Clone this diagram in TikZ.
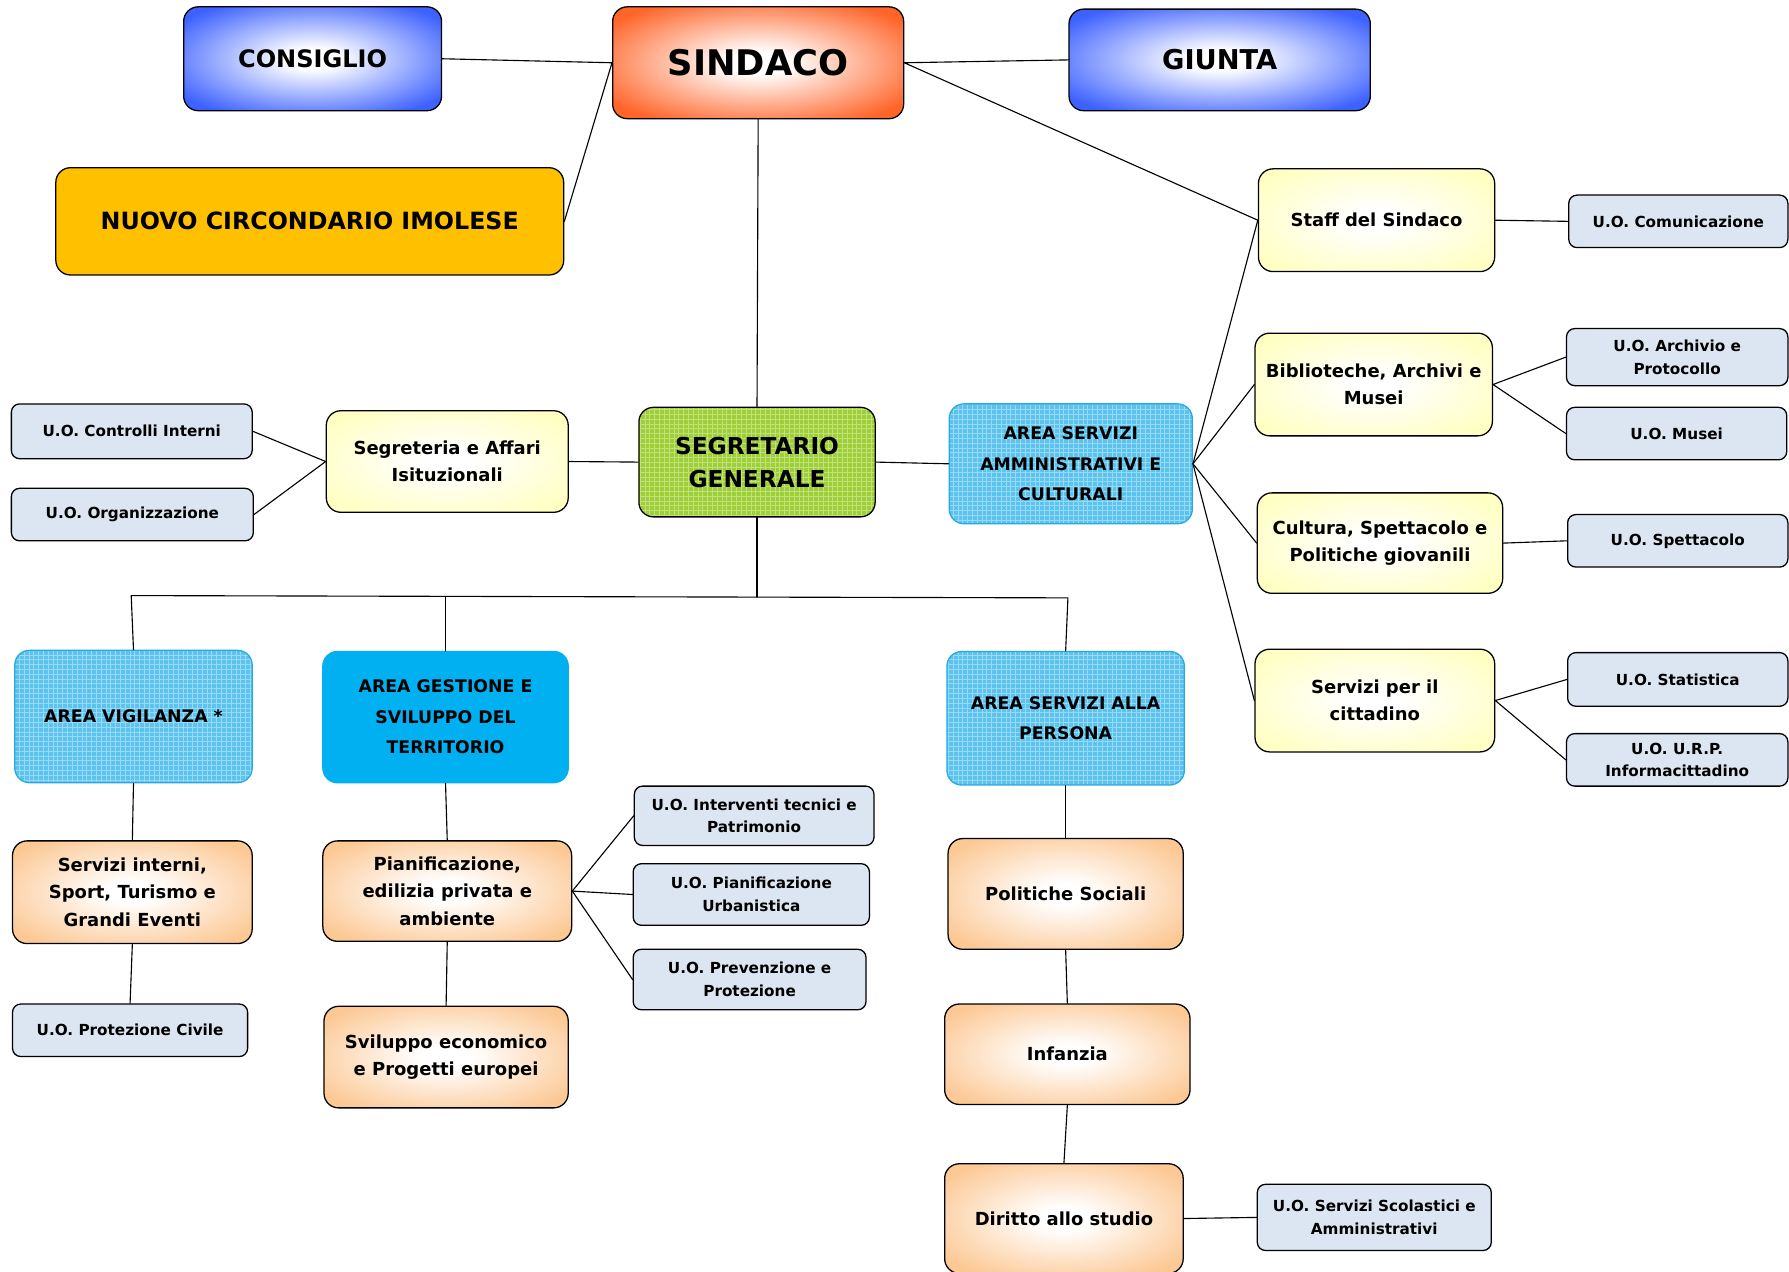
\documentclass[tikz,border=0pt]{standalone}
\usepackage{fontspec}
\setmainfont{DejaVu Sans}
\usetikzlibrary{patterns}
\definecolor{bluedge}{RGB}{62,98,255}
\definecolor{orangedge}{RGB}{255,100,40}
\definecolor{yellowedge}{RGB}{255,255,196}
\definecolor{peachedge}{RGB}{252,200,148}
\definecolor{uoblue}{RGB}{220,230,242}
\definecolor{areacyan}{RGB}{92,195,238}
\definecolor{areagrid}{RGB}{150,218,246}
\definecolor{arealine}{RGB}{40,170,225}
\definecolor{solidcyan}{RGB}{0,176,240}
\definecolor{segreen}{RGB}{158,206,56}
\definecolor{segrid}{RGB}{192,226,120}
\definecolor{gold}{RGB}{255,192,0}
\pgfdeclareradialshading{glowblue}{\pgfpoint{0bp}{0bp}}{color(0bp)=(white); color(5bp)=(white); color(31bp)=(bluedge); color(50bp)=(bluedge)}
\pgfdeclareradialshading{gloworange}{\pgfpoint{0bp}{0bp}}{color(0bp)=(white); color(5bp)=(white); color(31bp)=(orangedge); color(50bp)=(orangedge)}
\pgfdeclareradialshading{glowyellow}{\pgfpoint{0bp}{0bp}}{color(0bp)=(white); color(5bp)=(white); color(30bp)=(yellowedge); color(50bp)=(yellowedge)}
\pgfdeclareradialshading{glowpeach}{\pgfpoint{0bp}{0bp}}{color(0bp)=(white); color(5bp)=(white); color(31bp)=(peachedge); color(50bp)=(peachedge)}
\begin{document}
\begin{tikzpicture}[x=0.025cm,y=-0.025cm,line join=round,line cap=round]
\tikzset{box/.style={draw=black,line width=0.8pt,rounded corners=0.32cm,align=center,font=\bfseries,inner sep=0pt},
topbox/.style={box,shade,shading=glowblue,font=\bfseries\fontsize{15}{18}\selectfont},
capbox/.style={box,shade,shading=gloworange,font=\bfseries\fontsize{22}{26}\selectfont},
servbox/.style={box,shade,shading=glowyellow,font=\bfseries\fontsize{11.2}{17}\selectfont},
unitbox/.style={box,shade,shading=glowpeach,font=\bfseries\fontsize{11.2}{17}\selectfont},
uobox/.style={box,fill=uoblue,rounded corners=0.18cm,font=\bfseries\fontsize{9.5}{14.2}\selectfont},
areabox/.style={box,draw=arealine,preaction={fill=areacyan},pattern=grid,pattern color=areagrid,font=\bfseries\fontsize{10.8}{19}\selectfont},
link/.style={line width=0.7pt}}
\useasboundingbox (0,0) rectangle (1568,1114);
\clip (0,0) rectangle (1568,1114);
\node[capbox,minimum width=6.375cm,minimum height=2.45cm] (sindaco) at (664.5,55) {SINDACO};
\node[topbox,minimum width=5.65cm,minimum height=2.275cm] (consiglio) at (274,51.5) {CONSIGLIO};
\node[topbox,minimum width=6.6cm,minimum height=2.225cm,font=\bfseries\fontsize{17}{20}\selectfont] (giunta) at (1069,52.5) {GIUNTA};
\node[box,fill=gold,minimum width=11.125cm,minimum height=2.35cm,font=\bfseries\fontsize{14.8}{18}\selectfont] (circondario) at (271.5,194) {NUOVO CIRCONDARIO IMOLESE};
\node[box,draw=black,preaction={fill=segreen},pattern=grid,pattern color=segrid,minimum width=5.175cm,minimum height=2.4cm,font=\bfseries\fontsize{14.5}{20.5}\selectfont] (segretario) at (663.5,405) {SEGRETARIO\\GENERALE};
\node[servbox,minimum width=5.3cm,minimum height=2.225cm] (segreteria) at (392,404.5) {Segreteria e Affari\\Isituzionali};
\node[uobox,minimum width=5.275cm,minimum height=1.2cm] (controlli) at (115.5,378) {U.O. Controlli Interni};
\node[uobox,minimum width=5.3cm,minimum height=1.15cm] (organizz) at (116,451) {U.O. Organizzazione};
\node[servbox,minimum width=5.175cm,minimum height=2.25cm] (staff) at (1206.5,193) {Staff del Sindaco};
\node[uobox,minimum width=4.8cm,minimum height=1.15cm] (comunic) at (1471,194) {U.O. Comunicazione};
\node[areabox,minimum width=5.325cm,minimum height=2.625cm] (areamm) at (938.5,406.5) {AREA SERVIZI\\AMMINISTRATIVI E\\CULTURALI};
\node[servbox,minimum width=5.2cm,minimum height=2.25cm] (bibl) at (1204,337) {Biblioteche, Archivi e\\Musei};
\node[uobox,minimum width=4.85cm,minimum height=1.25cm] (archivio) at (1470,313) {U.O. Archivio e\\Protocollo};
\node[uobox,minimum width=4.825cm,minimum height=1.15cm] (musei) at (1469.5,380) {U.O. Musei};
\node[servbox,minimum width=5.375cm,minimum height=2.2cm] (cultura) at (1209.5,476) {Cultura, Spettacolo e\\Politiche giovanili};
\node[uobox,minimum width=4.825cm,minimum height=1.15cm] (spettacolo) at (1470.5,474) {U.O. Spettacolo};
\node[servbox,minimum width=5.25cm,minimum height=2.25cm] (cittadino) at (1205,614) {Servizi per il\\cittadino};
\node[uobox,minimum width=4.825cm,minimum height=1.175cm] (statistica) at (1470.5,595.5) {U.O. Statistica};
\node[uobox,minimum width=4.85cm,minimum height=1.15cm] (urp) at (1470,666) {U.O. U.R.P.\\Informacittadino};
\node[areabox,minimum width=5.2cm,minimum height=2.9cm] (vigilanza) at (117,628) {AREA VIGILANZA *};
\node[areabox,draw=solidcyan,preaction={fill=solidcyan},pattern color=solidcyan,minimum width=5.375cm,minimum height=2.875cm] (gestione) at (390.5,628.5) {AREA GESTIONE E\\SVILUPPO DEL\\TERRITORIO};
\node[areabox,minimum width=5.2cm,minimum height=2.925cm] (persona) at (934,629.5) {AREA SERVIZI ALLA\\PERSONA};
\node[unitbox,minimum width=5.25cm,minimum height=2.25cm] (servint) at (116,782) {Servizi interni,\\Sport, Turismo e\\Grandi Eventi};
\node[uobox,minimum width=5.15cm,minimum height=1.15cm] (protciv) at (114,903) {U.O. Protezione Civile};
\node[unitbox,minimum width=5.45cm,minimum height=2.2cm] (pianif) at (392,781) {Pianificazione,\\edilizia privata e\\ambiente};
\node[uobox,minimum width=5.25cm,minimum height=1.3cm] (interventi) at (661,715) {U.O. Interventi tecnici e\\Patrimonio};
\node[uobox,minimum width=5.175cm,minimum height=1.35cm] (urbanist) at (658.5,784) {U.O. Pianificazione\\Urbanistica};
\node[uobox,minimum width=5.1cm,minimum height=1.325cm] (prevenz) at (657,858.5) {U.O. Prevenzione e\\Protezione};
\node[unitbox,minimum width=5.35cm,minimum height=2.225cm] (sviluppo) at (391,926.5) {Sviluppo economico\\e Progetti europei};
\node[unitbox,minimum width=5.15cm,minimum height=2.425cm] (polsoc) at (934,783.5) {Politiche Sociali};
\node[unitbox,minimum width=5.375cm,minimum height=2.2cm] (infanzia) at (935.5,924) {Infanzia};
\node[unitbox,minimum width=5.225cm,minimum height=2.4cm] (diritto) at (932.5,1068) {Diritto allo studio};
\node[uobox,minimum width=5.125cm,minimum height=1.45cm] (scolastici) at (1204.5,1067) {U.O. Servizi Scolastici e\\Amministrativi};
\coordinate (barL) at (115,522);
\coordinate (barR) at (936,524);
\draw[link] (consiglio.east) -- (sindaco.west) -- (circondario.east);
\draw[link] (giunta.west) -- (sindaco.east) -- (staff.west);
\draw[link] (sindaco.south) -- (segretario.north);
\draw[link] (segreteria.east) -- (segretario.west);
\draw[link] (controlli.east) -- (segreteria.west) -- (organizz.east);
\draw[link] (segretario.east) -- (areamm.west);
\foreach \n in {staff,bibl,cultura,cittadino}{\draw[link] (areamm.east) -- (\n.west);}
\draw[link] (staff.east) -- (comunic.west);
\draw[link] (archivio.west) -- (bibl.east) -- (musei.west);
\draw[link] (cultura.east) -- (spettacolo.west);
\draw[link] (statistica.west) -- (cittadino.east) -- (urp.west);
\draw[link] (segretario.south) -- (segretario.south |- 0,523.3);
\draw[link] (vigilanza.north) -- (barL) -- (barR) -- (persona.north);
\draw[link] (gestione.north) -- (gestione.north |- 0,522.7);
\draw[link] (vigilanza.south) -- (servint.north);
\draw[link] (servint.south) -- (protciv.north);
\draw[link] (gestione.south) -- (pianif.north);
\draw[link] (pianif.south) -- (sviluppo.north);
\foreach \n in {interventi,urbanist,prevenz}{\draw[link] (pianif.east) -- (\n.west);}
\draw[link] (persona.south) -- (polsoc.north);
\draw[link] (polsoc.south) -- (infanzia.north);
\draw[link] (infanzia.south) -- (diritto.north);
\draw[link] (diritto.east) -- (scolastici.west);
\end{tikzpicture}
\end{document}
